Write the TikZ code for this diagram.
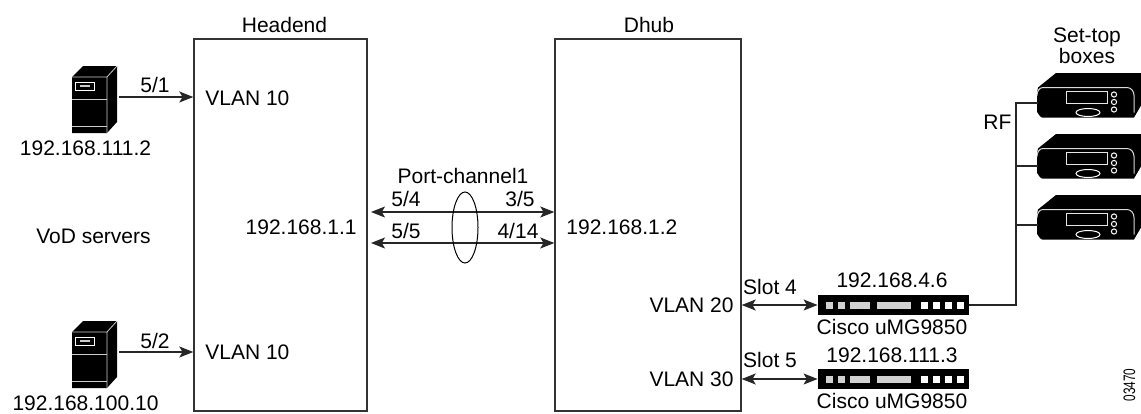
\documentclass[tikz,border=0pt]{standalone}
\usepackage{fontspec}
\setmainfont{Liberation Sans}
\usetikzlibrary{arrows.meta}
\tikzset{
    lbl/.style={font=\fontsize{10.5}{12}\selectfont, inner sep=0pt, anchor=base},
    lblL/.style={lbl, anchor=base west},
    lblR/.style={lbl, anchor=base east},
    site/.style={draw=black!80, line width=0.7pt, minimum width=#1, minimum height=186pt, inner sep=0pt},
    umg/.style={fill=black, minimum width=75.5pt, minimum height=10pt, inner sep=0pt},
    link/.style={line width=0.6pt, black!85},
    tip/.style={-{Stealth[length=7pt,width=5.5pt,inset=1.6pt]}},
    tips/.style={{Stealth[length=7pt,width=5.5pt,inset=1.6pt]}-{Stealth[length=7pt,width=5.5pt,inset=1.6pt]}},
    server/.pic={
        % origin is the top left corner of the front panel
        \fill (0,0) -- (11,-11) -- (45,-11) -- (45,45) -- (35,56) -- (0,56) -- cycle;
        \draw[white!80!black, line width=0.4pt] (0,0) -- (35,0) -- (35,56) (35,0) -- (45,-11);
        \draw[white!80!black, line width=0.4pt] (0,22) -- (35,22) (0,49) -- (35,49);
        \draw[white, line width=0.5pt] (3,5) rectangle (22,13);
        \fill[white!80!black] (8,8) rectangle (18,10);
    },
    settop/.pic={
        % origin is the top left corner of the body, below the lid
        \fill (1,0) -- (19,-14.5) -- (104,-14.5) -- (104,18) -- (97,30) -- (5,30)
            to[out=180,in=90] (0,25) -- (0,5) -- cycle;
        \draw[white!85!black, line width=0.5pt] (0,8) to[out=90,in=180] (6,0) -- (90,0)
            to[out=0,in=90] (97,8) -- (97,25);
        \draw[white!90!black, line width=0.5pt] (29,3.5) rectangle (70,16);
        \draw[white, line width=0.5pt] (51,25) ellipse (12 and 4);
        \foreach \cy in {7,14.5,22}
            \draw[white, line width=0.5pt] (77,\cy) circle (2.6);
    },
    ports/.pic={
        % origin is the left end of the switch, on its centre line
        \foreach \xa/\xb in {8/15, 20/27, 32/52, 59/93}
            \fill[black!18] (\xa,-3.5) rectangle (\xb,3.5);
        \foreach \xa/\xb in {103/110, 115/122, 127/134, 139/146}
            \fill[white] (\xa,-3.5) rectangle (\xb,3.5);
    },
}
\begin{document}
\begin{tikzpicture}[x=0.5pt, y=-0.5pt]
    \useasboundingbox (0,0) rectangle (1141,413);

    % the two sites
    \node[site=86.5pt] (headend) at (280.5,225) {};
    \node[site=93pt] (dhub) at (648,225) {};
    \node[lbl] at (284.5,32) {Headend};
    \node[lbl] at (649,32) {Dhub};

    % VoD servers
    \pic at (72,77) {server};
    \pic at (72,332) {server};
    \coordinate (srvA) at (119,97);
    \coordinate (srvB) at (119,352);
    \draw[link, tip] (srvA) -- (srvA -| headend.west);
    \draw[link, tip] (srvB) -- (srvB -| headend.west);
    \node[lbl] at (155,92) {5/1};
    \node[lbl] at (155,348) {5/2};
    \node[lbl] at (85.5,155) {192.168.111.2};
    \node[lbl] at (85.5,410) {192.168.100.10};
    \node[lbl] at (93.5,243) {VoD servers};
    \node[lblL] at (205,105) {VLAN 10};
    \node[lblL] at (205,359) {VLAN 10};

    % port channel
    \coordinate (chanA) at (371,212);
    \coordinate (chanB) at (371,243);
    \draw[link, tips] (chanA) -- (chanA -| dhub.west);
    \draw[link, tips] (chanB) -- (chanB -| dhub.west);
    \draw[line width=0.5pt] (465,227.5) ellipse (13 and 35.5);
    \node[lbl] at (463,183) {Port-channel1};
    \node[lbl] at (406,206) {5/4};
    \node[lbl] at (406,238) {5/5};
    \node[lbl] at (520,206) {3/5};
    \node[lbl] at (518,238) {4/14};
    \node[lblR] at (357,234) {192.168.1.1};
    \node[lblL] at (566,234) {192.168.1.2};

    % uMG9850 switches
    \node[umg] (umgA) at (893.5,305) {};
    \node[umg] (umgB) at (893.5,379) {};
    \pic at (umgA.west) {ports};
    \pic at (umgB.west) {ports};
    \draw[link, tips] (dhub.east |- umgA.west) -- (umgA.west);
    \draw[link, tips] (dhub.east |- umgB.west) -- (umgB.west);
    \node[lblR] at (734,312) {VLAN 20};
    \node[lblR] at (734,386) {VLAN 30};
    \node[lbl] at (770,294) {Slot 4};
    \node[lbl] at (770,367) {Slot 5};
    \node[lbl] at (892,287) {192.168.4.6};
    \node[lbl] at (892,334) {Cisco uMG9850};
    \node[lbl] at (892,362) {192.168.111.3};
    \node[lbl] at (892,408) {Cisco uMG9850};

    % set-top boxes
    \pic at (1037,87.5) {settop};
    \pic at (1037,148.5) {settop};
    \pic at (1037,209.5) {settop};
    \coordinate (stbA) at (1038,103);
    \coordinate (stbB) at (1038,166);
    \coordinate (stbC) at (1038,225);
    \coordinate (rfbus) at (1016,103);
    \draw[link] (umgA.east) -| (rfbus) -- (stbA);
    \draw[link] (rfbus |- stbB) -- (stbB);
    \draw[link] (rfbus |- stbC) -- (stbC);
    \node[lbl] at (1087,42) {Set-top};
    \node[lbl] at (1087,63) {boxes};
    \node[lblL] at (983,129) {RF};

    % figure number
    \node[lbl, font=\fontsize{8.3}{9}\selectfont, rotate=90, xscale=0.71] at (1135,385) {03470};
\end{tikzpicture}
\end{document}
